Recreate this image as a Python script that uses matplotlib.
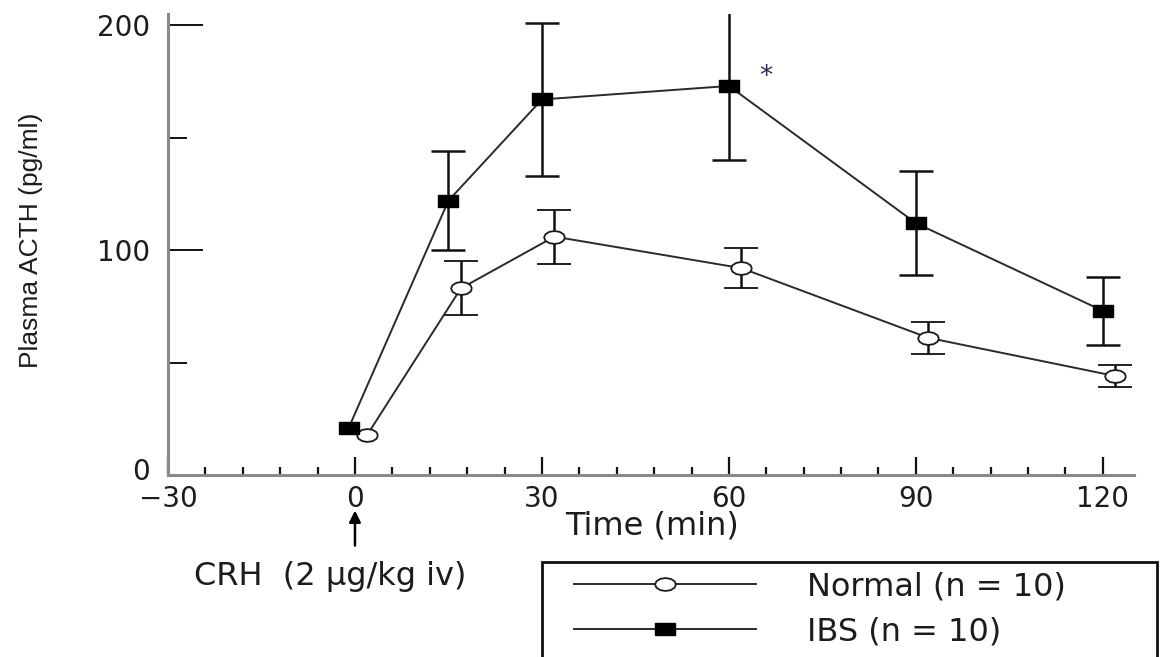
import matplotlib
matplotlib.use("Agg")
import matplotlib.pyplot as plt
import matplotlib.transforms as mtransforms
from matplotlib.patches import Rectangle
from matplotlib.ticker import MultipleLocator, FixedLocator

# values (mean +/- SEM)
normal_time = [2, 17, 32, 62, 92, 122]
normal_acth = [18, 83, 106, 92, 61, 44]
normal_sem = [0, 12, 12, 9, 7, 5]

ibs_time = [-1, 15, 30, 60, 90, 120]
ibs_acth = [21, 122, 167, 173, 112, 73]
ibs_sem = [0, 22, 34, 33, 23, 15]

x_ticks = [-30, 0, 30, 60, 90, 120]
y_ticks = [0, 100, 200]
labels = ["Normal (n = 10)", "IBS (n = 10)"]

plt.rcParams["font.family"] = ["DejaVu Sans"]
TXT = "#1c1c1c"

fig = plt.figure(figsize=(11.68, 6.57), dpi=100)
ax = fig.add_axes([168 / 1168, 1 - 475 / 657, (1134 - 168) / 1168, (475 - 14) / 657])

# wide, flat markers like the scanned original
rect = [(-1, -0.62), (1, -0.62), (1, 0.62), (-1, 0.62), (-1, -0.62)]
ell = [(1.0, 0.0), (0.87, 0.31), (0.5, 0.54), (0.0, 0.62), (-0.5, 0.54), (-0.87, 0.31),
       (-1.0, 0.0), (-0.87, -0.31), (-0.5, -0.54), (0.0, -0.62), (0.5, -0.54),
       (0.87, -0.31), (1.0, 0.0)]

# first (baseline) points have no error bar
line_n, _, _ = ax.errorbar(normal_time, normal_acth, yerr=normal_sem, errorevery=(1, 1),
                           color="#2a2a2a", lw=1.4, elinewidth=1.8, capsize=12,
                           capthick=1.8, marker=ell, ms=15, mfc="white", mec="#1a1a1a",
                           mew=1.3, ecolor="#111111", zorder=3)
line_i, _, _ = ax.errorbar(ibs_time, ibs_acth, yerr=ibs_sem, errorevery=(1, 1),
                           color="#2a2a2a", lw=1.4, elinewidth=1.8, capsize=12,
                           capthick=1.8, marker=rect, ms=15, mfc="black", mec="black",
                           ecolor="#111111", zorder=4)

ax.text(66, 177, "*", fontsize=19, color="#2a2a55", ha="center", va="center")

ax.set_xlim(-30, 125)
ax.set_ylim(0, 205)
for s in ["top", "right"]:
    ax.spines[s].set_visible(False)
for s in ["left", "bottom"]:
    ax.spines[s].set_color("#8a8a8a")
    ax.spines[s].set_linewidth(2.2)

ax.xaxis.set_major_locator(FixedLocator(x_ticks))
ax.xaxis.set_minor_locator(MultipleLocator(6))
ax.yaxis.set_major_locator(FixedLocator(y_ticks))
ax.yaxis.set_minor_locator(FixedLocator([50, 150]))
ax.tick_params(axis="x", which="major", direction="in", length=13, width=1.6,
               labelsize=20, pad=7, color="#111111", labelcolor=TXT)
ax.tick_params(axis="x", which="minor", direction="in", length=6, width=1.6,
               color="#111111")
ax.tick_params(axis="y", which="major", direction="in", length=25, width=1.4,
               labelsize=20, pad=13, color="#111111", labelcolor=TXT)
ax.tick_params(axis="y", which="minor", direction="in", length=14, width=1.4,
               color="#111111")

ax.set_xlabel("Time (min)", fontsize=23, color=TXT)
ax.xaxis.set_label_coords(0.501, -0.076)
ax.xaxis.label.set_va("top")

fig.text(31 / 1168, 1 - 240 / 657, "Plasma ACTH (pg/ml)", rotation=90,
         ha="center", va="center", fontsize=19, color=TXT,
         family=["Liberation Sans Narrow", "Liberation Sans", "DejaVu Sans"])

ax.annotate("", xy=(0, -0.071), xytext=(0, -0.159),
            xycoords=("data", "axes fraction"), textcoords=("data", "axes fraction"),
            arrowprops=dict(arrowstyle="-|>", color="black", lw=1.8,
                            mutation_scale=17))
fig.text(330 / 1168, 1 - 577 / 657, "CRH  (2 µg/kg iv)", ha="center", va="center",
         fontsize=23, color=TXT)

# legend box runs off the bottom edge of the page
fig.add_artist(Rectangle((542 / 1168, -0.2), (1157 - 542) / 1168, 0.2 + 1 - 562 / 657,
                         transform=fig.transFigure, fill=False, ec="#111111", lw=2,
                         clip_on=False))
fig.legend([line_n, line_i], labels, loc="upper left",
           bbox_to_anchor=(574 / 1168, 1 - 571 / 657), frameon=False,
           borderpad=0, borderaxespad=0, handlelength=5.7, handletextpad=1.6,
           labelspacing=0.45, numpoints=1, fontsize=23, labelcolor=TXT)

# lift the y "0" a little so it clears the "-30" below it, as in the original
lab = ax.yaxis.get_major_ticks()[0].label1
lab.set_transform(lab.get_transform()
                  + mtransforms.ScaledTranslation(0, 6 / 100, fig.dpi_scale_trans))

fig.savefig("out.png", dpi=100)
